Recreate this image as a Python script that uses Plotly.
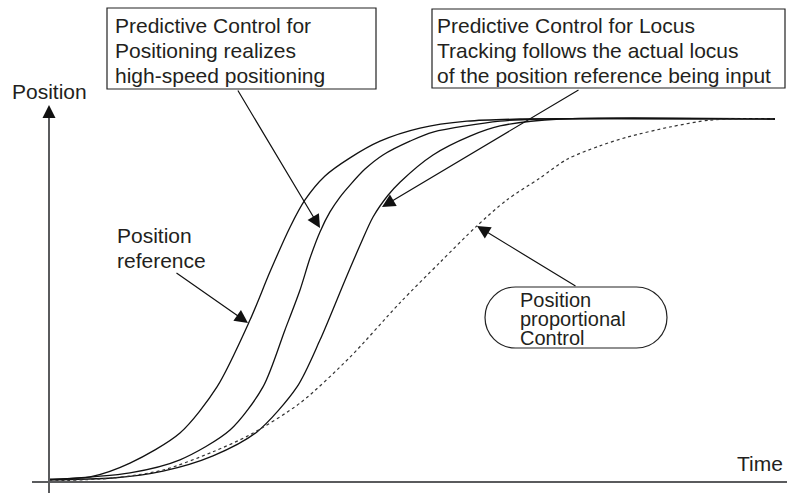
import plotly.graph_objects as go

# curves (time in arbitrary units, position normalised to 1)
t_reference = [0, 0.586, 1.157, 1.871, 2.4, 2.871, 3.157, 3.443, 3.657, 3.943, 4.3, 4.729, 5.3, 5.971,
               6.729, 10.371]
p_reference = [0.008, 0.014, 0.052, 0.135, 0.262, 0.446, 0.579, 0.702, 0.777, 0.843, 0.893, 0.939, 0.975,
               0.994, 1.0, 1.0]

t_positioning = [0, 1.157, 1.871, 2.586, 3.057, 3.371, 3.586, 3.729, 3.871, 4.014, 4.157, 4.3, 4.514,
                 4.771, 5.157, 5.486, 6.443, 7.014, 10.371]
p_positioning = [0.006, 0.025, 0.061, 0.143, 0.262, 0.419, 0.529, 0.617, 0.689, 0.744, 0.785, 0.818,
                 0.862, 0.901, 0.939, 0.964, 0.994, 1.0, 1.0]

t_locus = [0, 0.914, 1.629, 2.343, 2.971, 3.543, 3.871, 4.229, 4.443, 4.629, 4.843, 5.014, 5.486, 6.014,
           6.443, 7.3, 10.371]
p_locus = [0.006, 0.011, 0.030, 0.072, 0.138, 0.262, 0.391, 0.556, 0.652, 0.730, 0.790, 0.826, 0.901,
           0.953, 0.981, 1.0, 1.0]

t_proportional = [0, 0.91, 1.63, 2.34, 2.87, 3.59, 4.3, 5.01, 5.59, 6.11, 6.54, 7.01, 7.41, 7.87,
                  8.26, 8.87, 9.44, 9.87, 10.37]
p_proportional = [0.003, 0.011, 0.033, 0.083, 0.130, 0.218, 0.344, 0.493, 0.606, 0.705, 0.777,
                  0.837, 0.890, 0.926, 0.950, 0.978, 0.997, 1.0, 1.0]

box_positioning = ["Predictive Control for", "Positioning realizes", "high-speed positioning"]
box_locus = ["Predictive Control for Locus", "Tracking follows the actual locus",
             "of the position reference being input"]
label_reference = ["Position", "reference"]
label_proportional = ["Position", "proportional", "Control"]

# page pixels -> data units (plot area covers the whole page)
W, H = 787, 493
X0, Y0, SX, SY = 49, 482, 70.0, 363.0


def X(px):
    return (px - X0) / SX


def Y(py):
    return (Y0 - py) / SY


FONT = "Liberation Sans, Arial, sans-serif"
TXT = "#231f20"
AXC = "#5a5b5d"

fig = go.Figure()
for t, p in [(t_reference, p_reference), (t_positioning, p_positioning), (t_locus, p_locus)]:
    fig.add_trace(go.Scatter(x=t, y=p, mode="lines", line=dict(color="#111", width=1.3, shape="spline", smoothing=0.8),
                             hoverinfo="skip"))
fig.add_trace(go.Scatter(x=t_proportional, y=p_proportional, mode="lines",
                         line=dict(color="#333", width=1.2, dash="dot", shape="spline", smoothing=0.8),
                         hoverinfo="skip"))

shapes = [
    dict(type="line", x0=X(32), x1=X(787), y0=0, y1=0, line=dict(color=AXC, width=2)),
    dict(type="line", x0=0, x1=0, y0=Y(493), y1=Y(116), line=dict(color=AXC, width=2)),
    dict(type="rect", x0=X(107), x1=X(376), y0=Y(89), y1=Y(8), line=dict(color="#222", width=1.2)),
    dict(type="rect", x0=X(432), x1=X(785), y0=Y(88), y1=Y(9), line=dict(color="#222", width=1.2)),
]

# capsule around "Position proportional Control"
cx0, cx1, cy0, cy1 = 485, 667, 287, 348
r = (cy1 - cy0) / 2
ym = (cy0 + cy1) / 2
k = 0.5523 * r
pts = [
    ("M", [(cx0 + r, cy0)]),
    ("L", [(cx1 - r, cy0)]),
    ("C", [(cx1 - r + k, cy0), (cx1, ym - k), (cx1, ym)]),
    ("C", [(cx1, ym + k), (cx1 - r + k, cy1), (cx1 - r, cy1)]),
    ("L", [(cx0 + r, cy1)]),
    ("C", [(cx0 + r - k, cy1), (cx0, ym + k), (cx0, ym)]),
    ("C", [(cx0, ym - k), (cx0 + r - k, cy0), (cx0 + r, cy0)]),
]
path = " ".join(cmd + " ".join(f"{X(a):.4f},{Y(b):.4f}" for a, b in p) for cmd, p in pts) + " Z"
shapes.append(dict(type="path", path=path, line=dict(color="#222", width=1.2)))

ann = []


def text(s, px, py, anchor="left", size=21):
    ann.append(dict(x=X(px), y=Y(py), text=s, showarrow=False, xanchor=anchor, yanchor="middle",
                    font=dict(family=FONT, size=size, color=TXT)))


def arrow(fx, fy, tx, ty, w=1.2, size=2.2):
    ann.append(dict(x=X(tx), y=Y(ty), ax=X(fx), ay=Y(fy), axref="x", ayref="y", text="",
                    showarrow=True, arrowhead=2, arrowsize=size, arrowwidth=w, arrowcolor="#111",
                    standoff=0))


text("Position", 49, 91, "center")
text("Time", 735, 463)
for i, s in enumerate(box_positioning):
    text(s, 113, 25 + 25 * i)
for i, s in enumerate(box_locus):
    text(s, 435, 25 + 25 * i)
for i, s in enumerate(label_reference):
    text(s, 115, 235 + 25 * i)
for s, py in zip(label_proportional, [300, 319, 338]):
    text(s, 518, py, size=20)

arrow(49, 118, 49, 105, w=2, size=1.3)
arrow(175, 272, 248, 323)
arrow(237, 89, 320, 228)
arrow(580, 89, 382, 207)
arrow(577, 287, 477, 226)

fig.update_layout(
    width=W, height=H, margin=dict(l=0, r=0, t=0, b=0),
    paper_bgcolor="white", plot_bgcolor="white", showlegend=False,
    xaxis=dict(range=[X(0), X(W)], visible=False, fixedrange=True),
    yaxis=dict(range=[Y(H), Y(0)], visible=False, fixedrange=True),
    shapes=shapes, annotations=ann,
)

# drop the default page margin so the figure sits at the window's corner
fig.write_html("out.html", config={"displayModeBar": False},
               post_script="document.body.style.margin='0';")
